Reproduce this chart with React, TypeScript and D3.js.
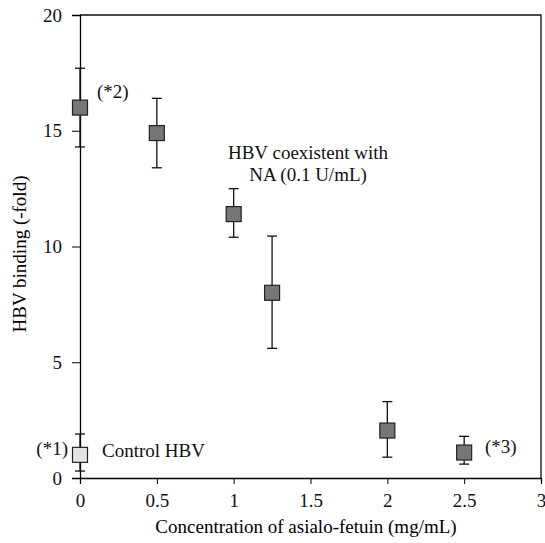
import React, { useEffect, useRef } from 'react';
import * as d3 from 'd3';

// asialo-fetuin concentration (mg/mL) and HBV binding (-fold) with NA
const conc = [0, 0.5, 1, 1.25, 2, 2.5];
const binding = [16.0, 14.9, 11.4, 8.0, 2.05, 1.1];
const errHi = [17.7, 16.4, 12.5, 10.45, 3.3, 1.8];
const errLo = [14.3, 13.4, 10.4, 5.6, 0.9, 0.6];

// control HBV
const ctrlConc = [0];
const ctrlVal = [1.0];
const ctrlHi = [1.9];
const ctrlLo = [0.3];

const xTicks = [0, 0.5, 1, 1.5, 2, 2.5, 3];
const xTickLabels = ['0', '0.5', '1', '1.5', '2', '2.5', '3'];
const yTicks = [0, 5, 10, 15, 20];

function App() {
  const svgRef = useRef<SVGSVGElement>(null);

  useEffect(() => {
    const W = 545, H = 543;
    const m = { left: 80, right: 4, top: 15, bottom: 65 };
    const font = '"Liberation Serif", "Times New Roman", serif';
    const fs = 19;

    const svg = d3.select(svgRef.current);
    svg.selectAll('*').remove();
    svg.attr('width', W).attr('height', H);

    const x = d3.scaleLinear().domain([0, 3]).range([m.left, W - m.right]);
    const y = d3.scaleLinear().domain([0, 20]).range([H - m.bottom, m.top]);

    // frame top + right
    svg.append('path')
      .attr('d', `M${x(0)},${y(20)}H${x(3)}V${y(0)}`)
      .attr('fill', 'none').attr('stroke', '#111').attr('stroke-width', 1.3);

    const gx = svg.append('g')
      .attr('transform', `translate(0,${y(0)})`)
      .call(d3.axisBottom(x).tickValues(xTicks)
        .tickFormat((d, i) => xTickLabels[i]).tickSize(6).tickPadding(10));
    gx.select('.domain').attr('stroke-width', 1.3);
    gx.selectAll('text').attr('font-size', fs).attr('font-family', font).attr('fill', '#111');

    const gy = svg.append('g')
      .attr('transform', `translate(${x(0)},0)`)
      .call(d3.axisLeft(y).tickValues(yTicks).tickSize(8).tickPadding(10));
    gy.select('.domain').attr('stroke-width', 1.3);
    gy.selectAll('text').attr('font-size', fs).attr('font-family', font).attr('fill', '#111');

    // axis titles
    svg.append('text')
      .attr('x', 306).attr('y', 533)
      .attr('text-anchor', 'middle').attr('font-size', fs).attr('font-family', font)
      .text('Concentration of asialo-fetuin (mg/mL)');
    svg.append('text')
      .attr('transform', `translate(26,254) rotate(-90)`)
      .attr('text-anchor', 'middle').attr('font-size', fs).attr('font-family', font)
      .text('HBV binding (-fold)');

    const sq = 15, cap = 5;

    const drawSeries = (xs: number[], vs: number[], hi: number[], lo: number[], fill: string) => {
      const g = svg.append('g');
      xs.forEach((c, i) => {
        g.append('line')
          .attr('x1', x(c)).attr('x2', x(c))
          .attr('y1', y(hi[i])).attr('y2', y(lo[i]))
          .attr('stroke', '#111').attr('stroke-width', 1.3);
        [hi[i], lo[i]].forEach(v => {
          g.append('line')
            .attr('x1', x(c) - cap).attr('x2', x(c) + cap)
            .attr('y1', y(v)).attr('y2', y(v))
            .attr('stroke', '#111').attr('stroke-width', 1.3);
        });
        g.append('rect')
          .attr('x', x(c) - sq / 2).attr('y', y(vs[i]) - sq / 2)
          .attr('width', sq).attr('height', sq)
          .attr('fill', fill).attr('stroke', '#222').attr('stroke-width', 1.2);
      });
    };

    drawSeries(conc, binding, errHi, errLo, '#767676');
    drawSeries(ctrlConc, ctrlVal, ctrlHi, ctrlLo, '#e4e4e4');

    const label = (tx: number, ty: number, s: string, anchor = 'start') =>
      svg.append('text').attr('x', tx).attr('y', ty).attr('text-anchor', anchor)
        .attr('font-size', fs).attr('font-family', font).attr('fill', '#111').text(s);

    label(97, 98, '(*2)');
    label(68, 455, '(*1)', 'end');
    label(102, 457, 'Control HBV');
    label(485, 453, '(*3)');
    label(308, 159, 'HBV coexistent with', 'middle');
    label(308, 181, 'NA (0.1 U/mL)', 'middle');
  }, []);

  return <svg ref={svgRef} style={{ position: 'absolute', left: 0, top: 0 }}></svg>;
}

export default App;
